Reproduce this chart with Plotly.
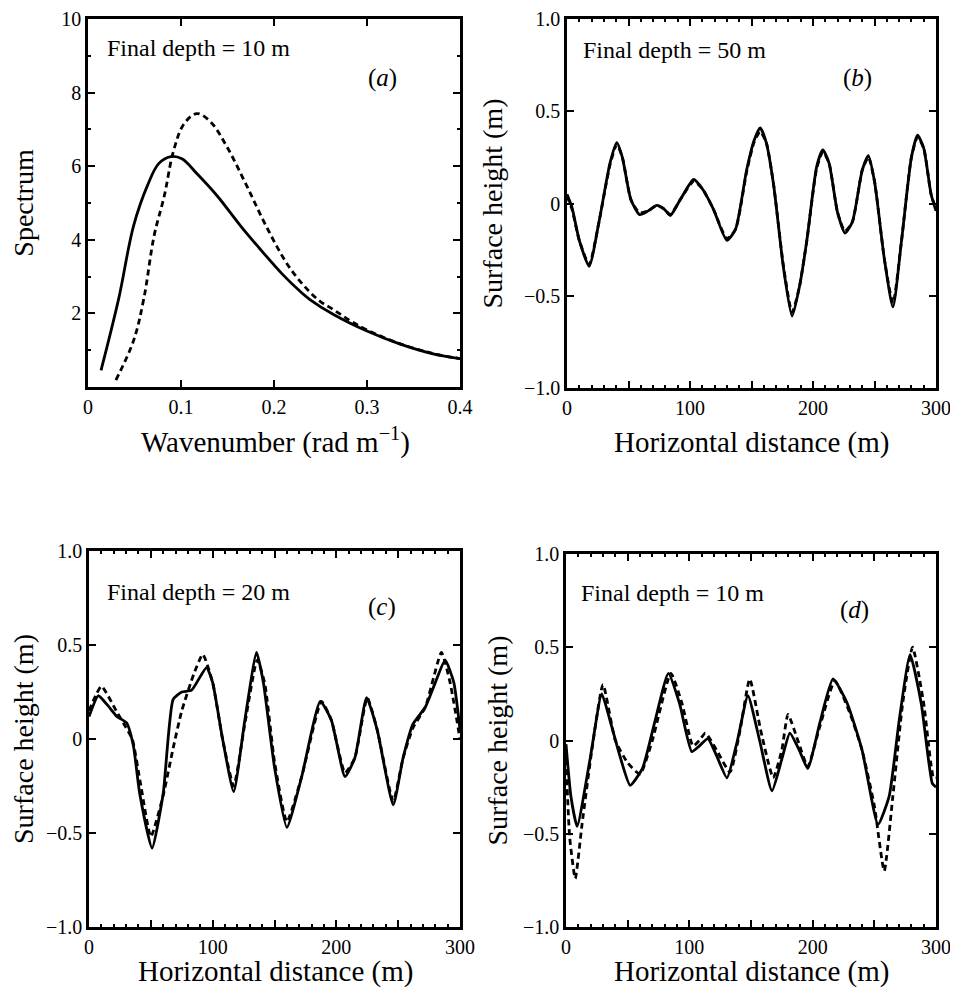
import plotly.graph_objects as go

# ---------------- data ----------------
# (a) spectrum
k_solid = [0.014, 0.033, 0.049, 0.064, 0.076, 0.089, 0.101, 0.117, 0.139, 0.164, 0.185,
           0.21, 0.228, 0.239, 0.264, 0.3, 0.335, 0.371, 0.4]
s_solid = [0.45, 2.4, 4.38, 5.48, 6.07, 6.26, 6.2, 5.8, 5.19, 4.38, 3.75,
           3.04, 2.6, 2.37, 1.97, 1.52, 1.17, 0.9, 0.77]
k_dash = [0.03, 0.049, 0.06, 0.071, 0.082, 0.092, 0.103, 0.117, 0.132, 0.15, 0.171,
          0.193, 0.218, 0.246, 0.264, 0.282, 0.3, 0.335, 0.371, 0.4]
s_dash = [0.19, 1.26, 2.4, 4.1, 5.19, 6.42, 7.14, 7.43, 7.2, 6.5, 5.45,
          4.3, 3.2, 2.4, 2.1, 1.8, 1.55, 1.18, 0.91, 0.77]

# (b) final depth 50 m
xb_solid = [0, 4, 10, 18, 26, 35, 40.5, 45, 52, 59, 66, 73, 79, 84, 92, 103, 110, 119, 130,
            137, 146, 152, 157, 162, 168, 176, 183, 189, 195, 203, 208, 213, 220, 226, 232,
            240, 245, 250, 258, 265, 272, 280, 285, 290, 296, 300]
yb_solid = [0.05, -0.02, -0.2, -0.34, -0.1, 0.22, 0.33, 0.25, 0.02, -0.06, -0.04, -0.01, -0.03,
            -0.065, 0.02, 0.13, 0.08, -0.03, -0.2, -0.14, 0.18, 0.34, 0.41, 0.33, 0.1, -0.35,
            -0.61, -0.45, -0.2, 0.2, 0.29, 0.22, -0.05, -0.16, -0.1, 0.18, 0.26, 0.12, -0.3,
            -0.56, -0.2, 0.25, 0.37, 0.3, 0.05, -0.04]
xb_dash = [0, 4, 10, 18, 26, 35, 40.5, 45, 52, 59, 66, 73, 79, 84, 92, 103, 110, 119, 130,
           137, 146, 152, 157, 162, 168, 176, 183, 189, 195, 203, 208, 213, 220, 226, 232,
           240, 245, 250, 258, 265, 272, 280, 285, 290, 296, 300]
yb_dash = [0.04, -0.03, -0.2, -0.33, -0.1, 0.21, 0.32, 0.25, 0.02, -0.05, -0.04, -0.01, -0.03,
           -0.06, 0.02, 0.12, 0.08, -0.03, -0.19, -0.14, 0.17, 0.33, 0.39, 0.33, 0.1, -0.34,
           -0.59, -0.45, -0.2, 0.19, 0.28, 0.22, -0.05, -0.15, -0.1, 0.18, 0.25, 0.12, -0.3,
           -0.54, -0.2, 0.25, 0.36, 0.3, 0.05, -0.03]

# (c) final depth 20 m
xc_solid = [0, 7.5, 15, 22.5, 30.5, 36, 41, 51, 60, 68, 75, 83, 95, 100, 108, 117, 126,
            135.5, 141, 150, 160, 172, 187, 196, 207, 215, 224.5, 233, 246, 254, 262, 272,
            280, 288, 295, 300]
yc_solid = [0.12, 0.23, 0.18, 0.12, 0.085, -0.04, -0.29, -0.58, -0.29, 0.21, 0.25, 0.26,
            0.38, 0.3, 0.0, -0.28, 0.1, 0.46, 0.3, -0.15, -0.47, -0.2, 0.2, 0.1, -0.2, -0.1,
            0.22, 0.05, -0.35, -0.1, 0.08, 0.17, 0.3, 0.42, 0.3, 0.05]
xc_dash = [0, 10, 22, 30, 35, 42, 50, 60, 68, 75, 85, 92, 100, 108, 117, 126, 136, 142, 150,
           160, 172, 188, 196, 207, 215, 225, 233, 246, 254, 262, 272, 285, 292, 300]
yc_dash = [0.15, 0.28, 0.15, 0.06, 0.0, -0.25, -0.52, -0.3, -0.05, 0.15, 0.35, 0.45, 0.3,
           0.0, -0.25, 0.08, 0.42, 0.3, -0.12, -0.44, -0.2, 0.2, 0.1, -0.18, -0.1, 0.22, 0.05,
           -0.33, -0.1, 0.06, 0.17, 0.46, 0.3, 0.0]

# (d) final depth 10 m
xd_solid = [0, 4, 9, 19.5, 29, 36, 44, 52, 62, 72, 83, 92, 102, 108, 115, 122, 130.5, 139,
            147.5, 157, 167, 175, 181.5, 189, 196, 206, 216.5, 228, 240, 253, 262, 270, 279,
            288, 297, 300]
yd_solid = [-0.02, -0.3, -0.46, -0.1, 0.25, 0.1, -0.09, -0.24, -0.15, 0.1, 0.36, 0.2, -0.06,
            -0.03, 0.01, -0.08, -0.2, 0.0, 0.24, 0.0, -0.27, -0.1, 0.04, -0.05, -0.15, 0.1,
            0.33, 0.2, -0.05, -0.45, -0.3, 0.1, 0.46, 0.2, -0.23, -0.25]
xd_dash = [0, 3, 7.5, 13, 21, 30, 40, 50, 60, 70, 85, 94, 103, 108, 113, 122, 133, 141, 149,
           158, 168, 175, 180, 188, 196, 206, 218, 230, 240, 250, 258, 265, 273, 281, 290,
           298, 300]
yd_dash = [-0.1, -0.52, -0.74, -0.45, -0.05, 0.3, 0.0, -0.12, -0.18, 0.0, 0.36, 0.2, -0.03,
           0.0, 0.04, -0.05, -0.17, 0.05, 0.33, 0.05, -0.2, -0.05, 0.14, 0.0, -0.14, 0.08,
           0.32, 0.15, -0.05, -0.35, -0.7, -0.3, 0.2, 0.5, 0.2, -0.2, -0.2]

# tick labels
a_xticks = [0, 0.1, 0.2, 0.3, 0.4]
a_xtext = ["0", "0.1", "0.2", "0.3", "0.4"]
a_yticks = [2, 4, 6, 8, 10]
a_ytext = ["2", "4", "6", "8", "10"]
h_xticks = [0, 50, 100, 150, 200, 250, 300]
h_xtext = ["0", " ", "100", " ", "200", " ", "300"]
h_yticks = [-1.0, -0.5, 0, 0.5, 1.0]
h_ytext = ["\u22121.0", "\u22120.5", "0", "0.5", "1.0"]

panel_texts = ["Final depth = 10 m", "Final depth = 50 m", "Final depth = 20 m", "Final depth = 10 m"]
panel_labels = ["(<i>a</i>)", "(<i>b</i>)", "(<i>c</i>)", "(<i>d</i>)"]
x_titles = ["Wavenumber (rad m<sup>\u22121</sup>)", "Horizontal distance (m)",
            "Horizontal distance (m)", "Horizontal distance (m)"]
y_titles = ["Spectrum", "Surface height (m)", "Surface height (m)", "Surface height (m)"]

# ---------------- figure ----------------
FONT = "Liberation Serif"
fig = go.Figure()

def add_pair(xs, ys, xd, yd, n, smooth):
    xa = "x" if n == 1 else f"x{n}"
    ya = "y" if n == 1 else f"y{n}"
    fig.add_trace(go.Scatter(x=xs, y=ys, mode="lines", xaxis=xa, yaxis=ya,
                             line=dict(color="black", width=2.8, shape="spline", smoothing=smooth),
                             showlegend=False))
    fig.add_trace(go.Scatter(x=xd, y=yd, mode="lines", xaxis=xa, yaxis=ya,
                             line=dict(color="black", width=2.8, dash="6px,4px",
                                       shape="spline", smoothing=smooth),
                             showlegend=False))

add_pair(k_solid, s_solid, k_dash, s_dash, 1, 1.0)
add_pair(xb_solid, yb_solid, xb_dash, yb_dash, 2, 0.6)
add_pair(xc_solid, yc_solid, xc_dash, yc_dash, 3, 0.5)
add_pair(xd_solid, yd_solid, xd_dash, yd_dash, 4, 0.5)

# page has an 8px body margin: figure placed at (8, 8) in the window
OFF = 8
W, H = 958 - OFF, 989 - OFF
def px_x(p):
    return (p - OFF) / W
def px_y(p):
    return 1 - (p - OFF) / H
def dom_x(l, r):
    return [px_x(l), px_x(r)]
def dom_y(t, b):
    return [px_y(b), px_y(t)]

common = dict(showline=True, linecolor="black", linewidth=2.5, mirror="ticks",
              ticks="inside", ticklen=7, tickwidth=2, tickcolor="black",
              showgrid=False, zeroline=False, automargin=False, ticklabeloverflow="allow",
              tickfont=dict(family=FONT, size=20, color="black"),
              title_font=dict(family=FONT, size=28, color="black"))

panels = [
    dict(xd=dom_x(88, 460), yd=dom_y(19, 387), xr=[0, 0.4], yr=[0, 10],
         xt=(a_xticks, a_xtext), yt=(a_yticks, a_ytext),
         xminor=None, yminor=dict(dtick=1, tick0=0)),
    dict(xd=dom_x(567, 936), yd=dom_y(19, 388), xr=[0, 300], yr=[-1, 1],
         xt=(h_xticks, h_xtext), yt=(h_yticks, h_ytext),
         xminor=dict(dtick=10, tick0=0), yminor=None),
    dict(xd=dom_x(89, 460), yd=dom_y(551, 927), xr=[0, 300], yr=[-1, 1],
         xt=(h_xticks, h_xtext), yt=(h_yticks, h_ytext),
         xminor=dict(dtick=10, tick0=0), yminor=None),
    dict(xd=dom_x(566, 936), yd=dom_y(554, 927), xr=[0, 300], yr=[-1, 1],
         xt=(h_xticks, h_xtext), yt=(h_yticks, h_ytext),
         xminor=dict(dtick=10, tick0=0), yminor=None),
]

layout = dict(width=W, height=H, margin=dict(l=0, r=0, t=0, b=0, autoexpand=False),
              paper_bgcolor="white", plot_bgcolor="white",
              font=dict(family=FONT, color="black"))

annotations = []
text_pos = [(0.018, 9.2), (11.5, 0.83), (13, 0.78), (10.5, 0.79)]
label_pos = [(0.317, 8.4), (236, 0.68), (237, 0.70), (234, 0.70)]
ystand = [28, 14, 21, 8]
xtitle_px = [(275, 440), (751, 442), (275, 971), (751, 971)]

for i, p in enumerate(panels):
    n = i + 1
    xk = "xaxis" if n == 1 else f"xaxis{n}"
    yk = "yaxis" if n == 1 else f"yaxis{n}"
    xa = "x" if n == 1 else f"x{n}"
    ya = "y" if n == 1 else f"y{n}"
    xax = dict(common, domain=p["xd"], range=p["xr"], anchor=ya,
               tickmode="array", tickvals=p["xt"][0], ticktext=p["xt"][1])
    if p["xminor"]:
        xax["minor"] = dict(p["xminor"], ticks="inside", ticklen=3, tickwidth=2, tickcolor="black")
    yax = dict(common, domain=p["yd"], range=p["yr"], anchor=xa,
               tickmode="array", tickvals=p["yt"][0], ticktext=p["yt"][1],
               title=dict(text=y_titles[i], standoff=ystand[i]))
    if p["yminor"]:
        yax["minor"] = dict(p["yminor"], ticks="inside", ticklen=3, tickwidth=2, tickcolor="black")
    layout[xk] = xax
    layout[yk] = yax
    annotations.append(dict(x=text_pos[i][0], y=text_pos[i][1], xref=xa, yref=ya,
                            text=panel_texts[i], showarrow=False, xanchor="left", yanchor="middle",
                            font=dict(family=FONT, size=24, color="black")))
    annotations.append(dict(x=label_pos[i][0], y=label_pos[i][1], xref=xa, yref=ya,
                            text=panel_labels[i], showarrow=False, xanchor="center", yanchor="middle",
                            font=dict(family=FONT, size=25, color="black")))
    # x-axis title
    annotations.append(dict(x=px_x(xtitle_px[i][0]), y=px_y(xtitle_px[i][1]), xref="paper", yref="paper",
                            text=x_titles[i], showarrow=False, xanchor="center", yanchor="middle",
                            font=dict(family=FONT, size=29, color="black")))

layout["annotations"] = annotations
fig.update_layout(**layout)
fig.write_html("out.html")
